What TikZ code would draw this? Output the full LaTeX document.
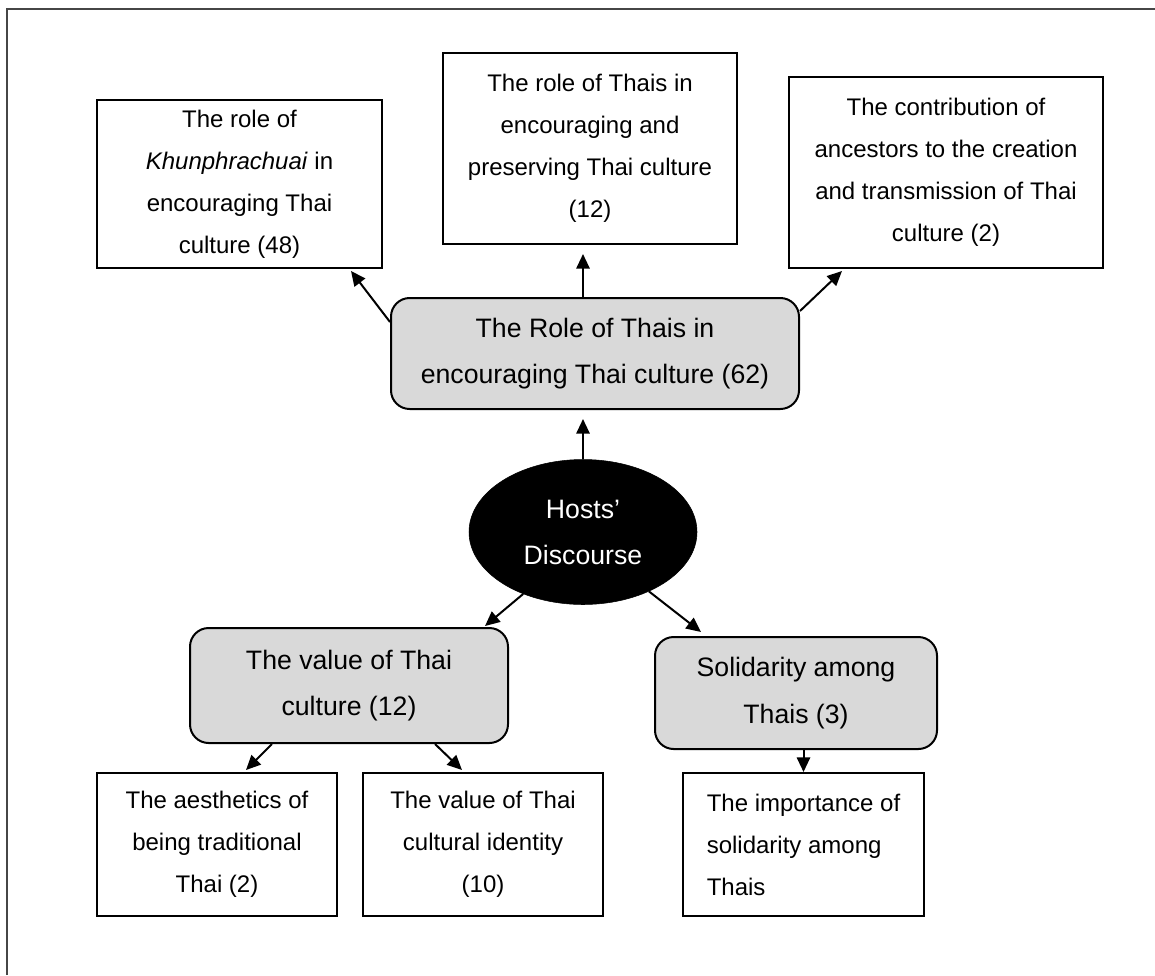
\documentclass[tikz,border=0pt]{standalone}
\usepackage{fontspec}
\setmainfont{Liberation Sans}
\usetikzlibrary{arrows.meta,shapes.geometric,calc}
\definecolor{boxgray}{RGB}{217,217,217}
\definecolor{framegray}{RGB}{70,70,70}
\begin{document}
\begin{tikzpicture}[x=0.75pt,y=-0.75pt,
  leaf/.style={draw,line width=1.5pt,rectangle,inner sep=0pt,align=center,
    font=\fontsize{18}{31.5}\selectfont},
  theme/.style={draw,line width=1.5pt,rectangle,rounded corners=14pt,fill=boxgray,
    inner sep=0pt,align=center,font=\fontsize{20}{35}\selectfont},
  core/.style={draw,ellipse,fill=black,text=white,inner sep=0pt,align=center,
    font=\fontsize{20}{34.5}\selectfont},
  link/.style={line width=1.5pt,-{Triangle[length=11pt,width=10pt]}}
]
\useasboundingbox (0,0) rectangle (1155,975);
% page frame (left and top rules only)
\draw[framegray,line width=1.4pt] (7,975) -- (7,9) -- (1155,9);

% top row of sub-themes
\node[leaf,minimum width=213.75pt,minimum height=126pt] (khun) at (239.5,184)
  {The role of\\\textit{Khunphrachuai} in\\encouraging Thai\\culture (48)};
\node[leaf,minimum width=220.5pt,minimum height=143.25pt] (preserve) at (590,148.5)
  {The role of Thais in\\encouraging and\\preserving Thai culture\\(12)};
\node[leaf,minimum width=235.5pt,minimum height=143.25pt] (ancestors) at (946,172.5)
  {The contribution of\\ancestors to the creation\\and transmission of Thai\\culture (2)};

% main theme
\node[theme,minimum width=306pt,minimum height=83.25pt] (role) at (595,353.5)
  {The Role of Thais in\\encouraging Thai culture (62)};

% centre
\node[core,minimum width=171pt,minimum height=108.75pt] (hosts) at (583,532)
  {Hosts’\\Discourse};

% lower themes
\node[theme,minimum width=238.5pt,minimum height=86.25pt] (value) at (349,685.5)
  {The value of Thai\\culture (12)};
\node[theme,minimum width=211.5pt,minimum height=84pt] (solid) at (796,693)
  {Solidarity among\\Thais (3)};

% bottom row of sub-themes
\node[leaf,minimum width=180pt,minimum height=107.25pt] (aesth) at (217,844.5)
  {The aesthetics of\\being traditional\\Thai (2)};
\node[leaf,minimum width=180pt,minimum height=107.25pt] (ident) at (483,844.5)
  {The value of Thai\\cultural identity\\(10)};
\node[leaf,align=left,minimum width=180.75pt,minimum height=107.25pt] (import) at (803.5,844.5)
  {The importance of\\solidarity among\\Thais};

% connectors
\draw[link,shorten >=6.75pt] (hosts.north) -- (hosts.north |- role.south);
\draw[link,shorten >=6.75pt] (hosts.north |- role.north) -- (hosts.north |- preserve.south);
\draw[link] ($(role.north west)+(0,25)$) -- ($(khun.south east)+(-32,2)$);
\draw[link] ($(role.north east)+(0,14)$) -- ($(ancestors.south west)+(54,2)$);
\draw[link] (hosts.226) -- ($(value.north east)+(-24,-1)$);
\draw[link] (hosts.318) -- ($(solid.north west)+(47,-4)$);
\draw[link] ($(value.south west)+(83,0)$) -- ($(aesth.north east)+(-92,-2)$);
\draw[link] ($(value.south west)+(246,0)$) -- ($(ident.north west)+(100,-2)$);
\draw[link] (import.north |- solid.south) -- (import.north);
\end{tikzpicture}
\end{document}
